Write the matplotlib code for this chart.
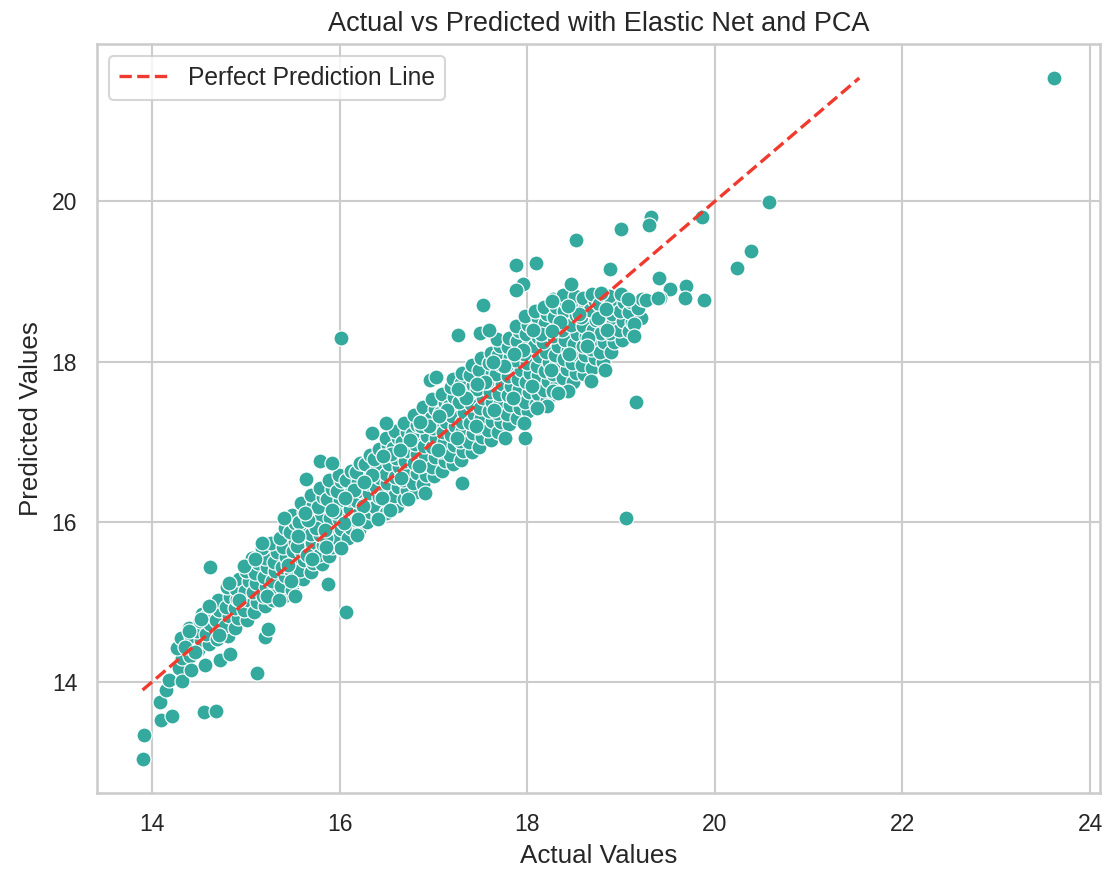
import matplotlib
matplotlib.use("Agg")
import matplotlib.pyplot as plt
import seaborn as sns

# Observed target values (x) and model predictions (y), grouped in strips of similar actual value
actual = [
    14.29, 14.32, 14.27, 14.31,
    14.41, 14.38, 14.42, 14.39,
    14.49, 14.52, 14.48, 14.51, 14.53,
    14.61, 14.58, 14.62, 14.59, 14.63,
    14.69, 14.72, 14.68, 14.71, 14.70,
    14.81, 14.78, 14.82, 14.79, 14.83, 14.80,
    14.89, 14.92, 14.88, 14.91, 14.90, 14.93,
    15.01, 14.98, 15.02, 14.99, 15.03, 15.00,
    15.09, 15.12, 15.08, 15.11, 15.10, 15.13, 15.07,
    15.21, 15.18, 15.22, 15.19, 15.23, 15.20, 15.17,
    15.29, 15.32, 15.28, 15.31, 15.30, 15.33, 15.27,
    15.41, 15.38, 15.42, 15.39, 15.43, 15.40, 15.37, 15.42,
    15.49, 15.52, 15.48, 15.51, 15.50, 15.53, 15.47, 15.52, 15.49,
    15.61, 15.58, 15.62, 15.59, 15.63, 15.60, 15.57, 15.62, 15.59,
    15.69, 15.72, 15.68, 15.71, 15.70, 15.73, 15.67, 15.72, 15.69,
    15.81, 15.78, 15.82, 15.79, 15.83, 15.80, 15.77, 15.82, 15.79,
    15.89, 15.92, 15.88, 15.91, 15.90, 15.93, 15.87, 15.92, 15.89,
    16.01, 15.98, 16.02, 15.99, 16.03, 16.00, 15.97, 16.02, 15.99,
    16.09, 16.12, 16.08, 16.11, 16.10, 16.13, 16.07, 16.12,
    16.21, 16.18, 16.22, 16.19, 16.23, 16.20, 16.17, 16.22,
    16.29, 16.32, 16.28, 16.31, 16.30, 16.33, 16.27, 16.32,
    16.41, 16.38, 16.42, 16.39, 16.43, 16.40, 16.37, 16.42,
    16.49, 16.52, 16.48, 16.51, 16.50, 16.53, 16.47, 16.52, 16.49,
    16.61, 16.58, 16.62, 16.59, 16.63, 16.60, 16.57, 16.62, 16.59,
    16.69, 16.72, 16.68, 16.71, 16.70, 16.73, 16.67, 16.72, 16.69,
    16.81, 16.78, 16.82, 16.79, 16.83, 16.80, 16.77, 16.82, 16.79,
    16.89, 16.92, 16.88, 16.91, 16.90, 16.93, 16.87, 16.92, 16.89,
    17.01, 16.98, 17.02, 16.99, 17.03, 17.00, 16.97, 17.02, 16.99,
    17.09, 17.12, 17.08, 17.11, 17.10, 17.13, 17.07, 17.12, 17.09,
    17.21, 17.18, 17.22, 17.19, 17.23, 17.20, 17.17, 17.22, 17.19, 17.21,
    17.29, 17.32, 17.28, 17.31, 17.30, 17.33, 17.27, 17.32, 17.29, 17.31,
    17.41, 17.38, 17.42, 17.39, 17.43, 17.40, 17.37, 17.42, 17.39, 17.41,
    17.49, 17.52, 17.48, 17.51, 17.50, 17.53, 17.47, 17.52, 17.49, 17.51,
    17.61, 17.58, 17.62, 17.59, 17.63, 17.60, 17.57, 17.62, 17.59, 17.61,
    17.69, 17.72, 17.68, 17.71, 17.70, 17.73, 17.67, 17.72, 17.69, 17.71, 17.68,
    17.81, 17.78, 17.82, 17.79, 17.83, 17.80, 17.77, 17.82, 17.79, 17.81,
    17.89, 17.92, 17.88, 17.91, 17.90, 17.93, 17.87, 17.92, 17.89, 17.91, 17.88,
    18.01, 17.98, 18.02, 17.99, 18.03, 18.00, 17.97, 18.02, 17.99, 18.01, 17.98,
    18.09, 18.12, 18.08, 18.11, 18.10, 18.13, 18.07, 18.12, 18.09, 18.11, 18.08,
    18.21, 18.18, 18.22, 18.19, 18.23, 18.20, 18.17, 18.22, 18.19, 18.21, 18.18,
    18.29, 18.32, 18.28, 18.31, 18.30, 18.33, 18.27, 18.32, 18.29, 18.31, 18.28,
    18.41, 18.38, 18.42, 18.39, 18.43, 18.40, 18.37, 18.42, 18.39, 18.41, 18.38,
    18.49, 18.52, 18.48, 18.51, 18.50, 18.53, 18.47, 18.52, 18.49, 18.51,
    18.61, 18.58, 18.62, 18.59, 18.63, 18.60, 18.57, 18.62, 18.59,
    18.69, 18.72, 18.68, 18.71, 18.70, 18.73, 18.67, 18.72, 18.69,
    18.81, 18.78, 18.82, 18.79, 18.83, 18.80, 18.77, 18.82,
    18.89, 18.92, 18.88, 18.91, 18.90, 18.93, 18.87,
    19.01, 18.98, 19.02, 18.99, 19.03, 19.00,
    19.09, 19.12, 19.08, 19.11,
    19.21, 19.18, 19.22,
    # in-between points of the dense core
    15.55, 15.65, 15.75, 15.85, 15.95, 16.05, 16.15, 16.25, 16.35, 16.45,
    16.55, 16.65, 16.75, 16.85, 16.95, 17.05, 17.15, 17.25, 17.35, 17.45,
    17.55, 17.65, 17.75, 17.85, 17.95, 18.05, 18.15, 18.25, 18.35, 18.45,
    18.55, 18.65, 18.75, 18.85,
    15.45, 15.66, 15.84, 16.06, 16.26, 16.46, 16.64, 16.86, 17.06, 17.26,
    17.46, 17.64, 17.86, 18.06, 18.26, 18.44, 18.64, 18.84,
    # low end and scattered points
    13.90, 13.92, 14.09, 14.10, 14.21, 14.15, 14.18, 14.32, 14.42, 14.57,
    14.56, 14.68, 14.73, 14.83, 15.12, 15.21, 15.24, 14.62, 15.88, 16.07,
    16.02, 16.19, 14.35, 14.39, 14.46, 14.52, 14.61, 14.71, 14.82, 14.93,
    14.98, 15.10, 15.23, 15.35, 15.53, 15.48, 15.17, 15.41, 15.71, 15.56,
    15.85, 15.63, 15.92, 16.49, 16.20,
    16.02, 17.53, 17.26, 17.50, 17.59, 16.96, 17.03, 16.49, 16.35, 15.79,
    15.92, 15.64, 17.31, 17.98, 17.97, 17.76, 18.21, 18.10, 18.68, 18.44,
    18.28, 18.26, 16.91, 16.73, 16.54, 16.41,
    20.58, 20.39, 20.24, 19.86, 19.32, 19.30, 19.00, 18.52, 17.88, 18.09,
    17.95, 17.88, 18.88, 19.41, 19.52, 19.69, 19.68, 19.88, 19.16, 19.27,
    19.14, 19.14, 18.83, 18.33, 18.47, 18.79, 19.07, 19.42, 19.39,
    23.62, 19.05,
]

predicted = [
    14.18, 14.30, 14.42, 14.55,
    14.33, 14.45, 14.57, 14.68,
    14.40, 14.52, 14.64, 14.76, 14.85,
    14.48, 14.60, 14.72, 14.84, 14.94,
    14.54, 14.66, 14.78, 14.90, 15.02,
    14.58, 14.70, 14.82, 14.94, 15.06, 15.18,
    14.68, 14.80, 14.92, 15.04, 15.16, 15.28,
    14.78, 14.90, 15.02, 15.14, 15.26, 15.38,
    14.88, 15.00, 15.12, 15.24, 15.36, 15.48, 15.55,
    14.95, 15.07, 15.19, 15.31, 15.43, 15.55, 15.67,
    15.02, 15.14, 15.26, 15.38, 15.50, 15.62, 15.74,
    15.08, 15.20, 15.32, 15.44, 15.56, 15.68, 15.80, 15.92,
    15.15, 15.27, 15.39, 15.51, 15.63, 15.75, 15.87, 15.99, 16.08,
    15.28, 15.40, 15.52, 15.64, 15.76, 15.88, 16.00, 16.12, 16.24,
    15.37, 15.49, 15.61, 15.73, 15.85, 15.97, 16.09, 16.21, 16.33,
    15.47, 15.59, 15.71, 15.83, 15.95, 16.07, 16.19, 16.31, 16.42,
    15.57, 15.69, 15.81, 15.93, 16.05, 16.17, 16.29, 16.41, 16.52,
    15.67, 15.79, 15.91, 16.03, 16.15, 16.27, 16.39, 16.51, 16.59,
    15.80, 15.92, 16.04, 16.16, 16.28, 16.40, 16.52, 16.63,
    15.90, 16.02, 16.14, 16.26, 16.38, 16.50, 16.62, 16.73,
    16.00, 16.12, 16.24, 16.36, 16.48, 16.60, 16.72, 16.83,
    16.07, 16.19, 16.31, 16.43, 16.55, 16.67, 16.79, 16.91,
    16.12, 16.24, 16.36, 16.48, 16.60, 16.72, 16.84, 16.96, 17.04,
    16.20, 16.32, 16.44, 16.56, 16.68, 16.80, 16.92, 17.04, 17.13,
    16.28, 16.40, 16.52, 16.64, 16.76, 16.88, 17.00, 17.12, 17.23,
    16.37, 16.49, 16.61, 16.73, 16.85, 16.97, 17.09, 17.21, 17.33,
    16.47, 16.59, 16.71, 16.83, 16.95, 17.07, 17.19, 17.31, 17.43,
    16.57, 16.69, 16.81, 16.93, 17.05, 17.17, 17.29, 17.41, 17.53,
    16.64, 16.76, 16.88, 17.00, 17.12, 17.24, 17.36, 17.48, 17.60,
    16.72, 16.84, 16.96, 17.08, 17.20, 17.32, 17.44, 17.56, 17.68, 17.78,
    16.77, 16.89, 17.01, 17.13, 17.25, 17.37, 17.49, 17.61, 17.73, 17.86,
    16.87, 16.99, 17.11, 17.23, 17.35, 17.47, 17.59, 17.71, 17.83, 17.96,
    16.94, 17.06, 17.18, 17.30, 17.42, 17.54, 17.66, 17.78, 17.90, 18.04,
    17.02, 17.14, 17.26, 17.38, 17.50, 17.62, 17.74, 17.86, 17.98, 18.11,
    17.12, 17.24, 17.36, 17.48, 17.60, 17.72, 17.84, 17.96, 18.08, 18.20, 18.28,
    17.22, 17.34, 17.46, 17.58, 17.70, 17.82, 17.94, 18.06, 18.18, 18.30,
    17.30, 17.42, 17.54, 17.66, 17.78, 17.90, 18.02, 18.14, 18.26, 18.38, 18.44,
    17.38, 17.50, 17.62, 17.74, 17.86, 17.98, 18.10, 18.22, 18.34, 18.46, 18.57,
    17.47, 17.59, 17.71, 17.83, 17.95, 18.07, 18.19, 18.31, 18.43, 18.55, 18.63,
    17.52, 17.64, 17.76, 17.88, 18.00, 18.12, 18.24, 18.36, 18.48, 18.60, 18.68,
    17.60, 17.72, 17.84, 17.96, 18.08, 18.20, 18.32, 18.44, 18.56, 18.68, 18.78,
    17.67, 17.79, 17.91, 18.03, 18.15, 18.27, 18.39, 18.51, 18.63, 18.75, 18.83,
    17.74, 17.86, 17.98, 18.10, 18.22, 18.34, 18.46, 18.58, 18.70, 18.82,
    17.84, 17.96, 18.08, 18.20, 18.32, 18.44, 18.56, 18.68, 18.80,
    17.92, 18.04, 18.16, 18.28, 18.40, 18.52, 18.64, 18.76, 18.84,
    18.00, 18.12, 18.24, 18.36, 18.48, 18.60, 18.72, 18.83,
    18.12, 18.24, 18.36, 18.48, 18.60, 18.72, 18.82,
    18.27, 18.39, 18.51, 18.63, 18.75, 18.84,
    18.38, 18.50, 18.62, 18.74,
    18.55, 18.67, 18.78,
    # in-between points of the dense core
    15.70, 15.58, 15.92, 15.80, 16.12, 15.98, 16.40, 16.20, 16.58, 16.30,
    16.85, 16.55, 17.02, 16.70, 17.20, 16.90, 17.40, 17.05, 17.55, 17.20,
    17.75, 17.40, 17.95, 17.55, 18.15, 17.70, 18.35, 17.90, 18.50, 18.10,
    18.60, 18.30, 18.55, 18.40,
    15.46, 16.02, 15.90, 16.30, 16.50, 16.82, 16.90, 17.25, 17.32, 17.66,
    17.72, 18.00, 18.10, 18.40, 18.38, 18.70, 18.20, 18.66,
    # low end and scattered points
    13.04, 13.34, 13.75, 13.52, 13.58, 13.90, 14.03, 14.01, 14.15, 14.21,
    13.63, 13.64, 14.27, 14.35, 14.11, 14.56, 14.66, 15.43, 15.22, 14.88,
    15.67, 15.83, 14.44, 14.64, 14.38, 14.79, 14.95, 14.59, 15.24, 15.03,
    15.45, 15.53, 15.07, 15.03, 15.07, 15.26, 15.74, 16.05, 15.53, 15.82,
    15.69, 16.11, 16.15, 16.11, 16.03,
    18.30, 18.71, 18.33, 18.36, 18.40, 17.77, 17.81, 17.23, 17.11, 16.76,
    16.73, 16.54, 16.48, 17.05, 17.23, 17.05, 17.45, 17.42, 17.76, 17.63,
    17.63, 18.76, 16.36, 16.28, 16.15, 16.03,
    19.99, 19.38, 19.17, 19.80, 19.80, 19.70, 19.66, 19.52, 19.21, 19.23,
    18.97, 18.89, 19.15, 19.04, 18.90, 18.94, 18.80, 18.77, 17.49, 18.77,
    18.47, 18.32, 17.90, 17.61, 18.97, 18.86, 18.78, 18.80, 18.79,
    21.54, 16.05,
]

title_text = "Actual vs Predicted with Elastic Net and PCA"
x_label = "Actual Values"
y_label = "Predicted Values"
line_label = "Perfect Prediction Line"

point_color = "#33aa9d"
line_color = "#f03a2e"

sns.set_theme(style="whitegrid")
plt.rcParams["font.family"] = ["Liberation Sans", "DejaVu Sans"]

fig = plt.figure(figsize=(1111 / 150, 869 / 150), dpi=150)
ax = fig.add_axes([0.0873, 0.0875, 0.9028, 0.8619])

sns.scatterplot(x=actual, y=predicted, color=point_color, s=52, ax=ax)

lo = min(actual)
hi = max(predicted)
ax.plot([lo, hi], [lo, hi], linestyle="--", color=line_color, lw=1.6,
        label=line_label)

ax.set_title(title_text, fontsize=13)
ax.set_xlabel(x_label, fontsize=12.5)
ax.set_ylabel(y_label, fontsize=12.5)
ax.legend(loc="upper left", fontsize=11.8)

fig.savefig("out.png", dpi=150)
